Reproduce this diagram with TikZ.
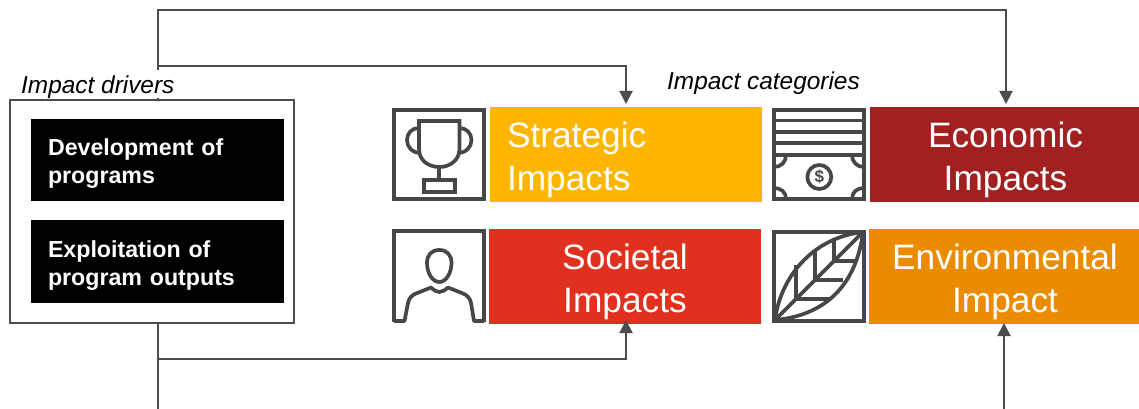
\documentclass[tikz,border=0pt]{standalone}
\usepackage{fontspec}
\setmainfont{Liberation Sans}
\usetikzlibrary{arrows.meta}
\definecolor{linegray}{HTML}{4D4D4D}
\definecolor{icongray}{HTML}{474747}
\definecolor{cstrat}{HTML}{FFB600}
\definecolor{cecon}{HTML}{A32020}
\definecolor{csoc}{HTML}{E0301E}
\definecolor{cenv}{HTML}{EB8C00}
\tikzset{
  conn/.style={draw=linegray,line width=2pt},
  arrowconn/.style={conn,-{Triangle[width=13pt,length=13pt]}},
  impact/.style={anchor=north west,inner sep=0pt,outer sep=0pt,text=white,minimum height=95pt,
    font=\fontsize{35.3pt}{42.5pt}\selectfont,align=center,
    execute at begin node={\rule{0pt}{36.5pt}}},
  driver/.style={anchor=north west,inner sep=0pt,outer sep=0pt,fill=black,text=white,
    font=\fontsize{23.2pt}{28pt}\selectfont\bfseries,align=left,text width=253pt},
  caption/.style={font=\fontsize{24.4pt}{28pt}\selectfont\itshape,inner sep=0pt},
  icon/.style={draw=icongray,line width=4pt,line join=miter},
  iconthin/.style={draw=icongray,line width=3.7pt,line join=round},
}
\begin{document}
\begin{tikzpicture}[x=1pt,y=-1pt]
\useasboundingbox (0,0) rectangle (1139,409);
\fill[white] (0,0) rectangle (1139,409);
% outer driver box
\node[draw=linegray,line width=1.4pt,fill=white,anchor=north west,inner sep=0pt,outer sep=0pt,
  minimum width=284pt,minimum height=223pt] (drivers) at (10,100) {};
% coloured blocks
\node[impact,fill=cstrat,text width=272pt,align=left] (strategic) at (490,107) {\hspace*{17pt}Strategic\\\hspace*{17pt}Impacts};
\node[impact,fill=cecon,text width=269pt] (economic) at (870,107) {\hspace*{2pt}Economic\\\hspace*{2pt}Impacts};
\node[impact,fill=csoc,text width=272pt] (societal) at (489,229) {Societal\\Impacts};
\node[impact,fill=cenv,text width=270pt] (environmental) at (869,229) {\hspace*{2pt}Environmental\\\hspace*{2pt}Impact};
% black driver boxes
\node[driver,minimum height=82pt,execute at begin node={\rule{0pt}{23pt}}] (dev) at (31,119) {\hspace*{17pt}Development of\\\hspace*{17pt}programs};
\node[driver,minimum height=83pt,execute at begin node={\rule{0pt}{25pt}}] (exp) at (31,220) {\hspace*{17pt}Exploitation of\\\hspace*{17pt}program outputs};
% connector coordinates
\coordinate (toptrunk) at (158,100);
\coordinate (topcorner) at (158,10);
\coordinate (topbranch) at (158,66);
\coordinate (botstart) at (158,323);
\coordinate (botbranch) at (158,359);
\coordinate (botend) at (158,409);
\coordinate (envstart) at (1004,409);
\coordinate (econin) at (1006,104);
\coordinate (stratin) at (626,104);
\coordinate (socin) at (626,320);
\coordinate (envin) at (1004,323);
% connectors
\draw[arrowconn] (toptrunk) -- (topcorner) -| (econin);
\draw[arrowconn] (topbranch) -| (stratin);
\draw[conn] (botstart) -- (botend);
\draw[arrowconn] (botbranch) -| (socin);
\draw[arrowconn] (envstart) -- (envin);
% captions
\node[caption,fill=white,anchor=base west,text height=24pt,text depth=4pt] (driverslabel) at (21,94) {Impact drivers};
\node[caption,anchor=base west] (categorieslabel) at (667,90) {Impact categories};
% trophy icon
\draw[icon] (394,110) rectangle (484,199);
\draw[iconthin,line join=miter] (419,121) -- (459.5,121) -- (459.5,149)
   .. controls (459.5,160) and (450,167) .. (439.3,167) .. controls (428,167) and (419,160) .. (419,149) -- cycle;
\draw[iconthin] (419,128) .. controls (412,128) and (407,133) .. (407,140) .. controls (407,147) and (412,153) .. (421,153);
\draw[iconthin] (459.5,128) .. controls (466,128) and (471.5,133) .. (471.5,140) .. controls (471.5,147) and (466,153) .. (457.5,153);
\draw[iconthin] (439.3,167) -- (439.3,180);
\draw[iconthin,line join=miter] (424,180) rectangle (455,192);
% person icon
\draw[icon] (394,322) -- (394,231) -- (484,231) -- (484,322);
\draw[iconthin] (394,321) -- (404.5,321) -- (408,303) .. controls (409,298) and (412,295) .. (416,293.5)
   -- (431,287.5) .. controls (434,290) and (436,292) .. (439.3,292) .. controls (442.5,292) and (445,290) .. (448,287.5)
   -- (463,293.5) .. controls (467,295) and (470,298) .. (471,303) -- (474,321) -- (484,321);
\draw[iconthin] (439.3,250) .. controls (447,250) and (451.5,255) .. (451.5,263)
   .. controls (451.5,273) and (446,282) .. (439.3,282) .. controls (432.5,282) and (427,273) .. (427,263)
   .. controls (427,255) and (431.5,250) .. (439.3,250) -- cycle;
% money icon
\draw[icon] (774,110) rectangle (864,199);
\foreach \yy in {120.5,132,143} \draw[iconthin,line width=3.6pt] (774,\yy) -- (864,\yy);
\draw[icon] (774,155) -- (864,155);
\draw[iconthin] (774,167) .. controls (781,167) and (786,162) .. (786,155);
\draw[iconthin] (864,167) .. controls (857,167) and (852,162) .. (852,155);
\draw[iconthin] (774,188) .. controls (781,188) and (786,192) .. (786,199);
\draw[iconthin] (864,188) .. controls (857,188) and (852,192) .. (852,199);
\draw[iconthin] (819.3,177) circle[radius=12];
\node[inner sep=0pt,text=icongray,font=\fontsize{17pt}{17pt}\selectfont\bfseries] (dollar) at (819.3,177) {\$};
% leaf icon
\draw[icon] (774,232) rectangle (864,321);
\draw[iconthin] (775,320) .. controls (780,280) and (810,238) .. (863,232)
   .. controls (857,280) and (830,315) .. (775,320) -- cycle;
\draw[iconthin] (775,320) -- (863,232);
\draw[iconthin] (796,265) -- (796,299) -- (830,299);
\draw[iconthin] (815,250) -- (815,280) -- (843,280);
\draw[iconthin] (834,238) -- (834,261) -- (855,261);
\end{tikzpicture}
\end{document}
